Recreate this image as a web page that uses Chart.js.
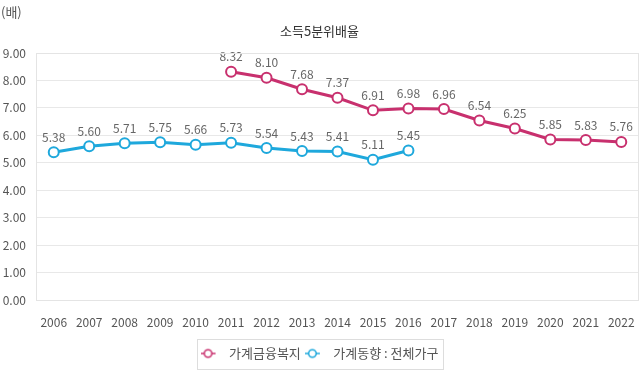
<!DOCTYPE html>
<html>
<head>
<meta charset="utf-8">
<script src="https://cdn.jsdelivr.net/npm/chart.js@4"></script>
<style>
  body { margin: 0; background: #fff; }
  #wrap { position: relative; width: 639px; height: 370px; }
  #the-chart { display: block; }
  #unit { position: absolute; left: 1px; top: 2px; font: 13px "Noto Sans CJK KR", sans-serif; color: #555; }
</style>
</head>
<body>
<div id="wrap">
  <span id="unit">(배)</span>
  <canvas id="the-chart" width="639" height="370"></canvas>
</div>
<script>
// 소득5분위배율 chart

const years = ['2006', '2007', '2008', '2009', '2010', '2011', '2012', '2013', '2014', '2015', '2016', '2017', '2018', '2019', '2020', '2021', '2022'];
const finWelfare = [null, null, null, null, null, 8.32, 8.10, 7.68, 7.37, 6.91, 6.98, 6.96, 6.54, 6.25, 5.85, 5.83, 5.76];
const hhTrend = [5.38, 5.60, 5.71, 5.75, 5.66, 5.73, 5.54, 5.43, 5.41, 5.11, 5.45, null, null, null, null, null, null];
const seriesNames = ['가계금융복지', '가계동향 : 전체가구'];
const colors = ['#c8306e', '#1ea8dc'];

const fontFamily = '"Noto Sans CJK KR", "Noto Sans", sans-serif';

// legend marker: short line with a hollow circle, left part of a 22px box
function legendMarker(color) {
  const c = document.createElement('canvas');
  c.width = 22;
  c.height = 12;
  const g = c.getContext('2d');
  g.strokeStyle = color;
  g.lineWidth = 1.5;
  g.beginPath();
  g.moveTo(0, 6);
  g.lineTo(15, 6);
  g.stroke();
  g.fillStyle = '#fff';
  g.beginPath();
  g.arc(7.5, 6, 3.8, 0, Math.PI * 2);
  g.fill();
  g.stroke();
  return c;
}

const valueLabels = {
  id: 'valueLabels',
  afterDatasetsDraw(chart) {
    const ctx = chart.ctx;
    ctx.save();
    ctx.font = '12px ' + fontFamily;
    ctx.fillStyle = '#666';
    ctx.textAlign = 'center';
    ctx.textBaseline = 'bottom';
    chart.data.datasets.forEach((ds, i) => {
      const meta = chart.getDatasetMeta(i);
      meta.data.forEach((pt, j) => {
        const v = ds.data[j];
        if (v === null) return;
        ctx.fillText(v.toFixed(2), pt.x, pt.y - 9);
      });
    });
    ctx.restore();
  }
};

const legendBox = {
  id: 'legendBox',
  afterDraw(chart) {
    const boxes = chart.legend.legendHitBoxes;
    if (!boxes.length) return;
    const first = boxes[0];
    const last = boxes[boxes.length - 1];
    const cy = first.top + first.height / 2;
    const ctx = chart.ctx;
    ctx.save();
    ctx.strokeStyle = '#dddddd';
    ctx.lineWidth = 1;
    const x0 = first.left - 4;
    const x1 = last.left + last.width + 4;
    ctx.strokeRect(Math.round(x0) + 0.5, Math.round(cy - 15) + 0.5, Math.round(x1 - x0), 30);
    ctx.restore();
  }
};

const plotFrame = {
  id: 'plotFrame',
  afterDraw(chart) {
    const a = chart.chartArea;
    const c = chart.ctx;
    c.save();
    c.strokeStyle = '#e4e4e4';
    c.lineWidth = 1;
    c.beginPath();
    c.moveTo(Math.round(a.right) - 0.5, a.top);
    c.lineTo(Math.round(a.right) - 0.5, a.bottom);
    c.moveTo(a.left, Math.round(a.top) + 0.5);
    c.lineTo(a.right, Math.round(a.top) + 0.5);
    c.stroke();
    c.restore();
  }
};

// let the plot run to the canvas edge (no padding reserved for edge tick labels)
const noScalePadding = {
  id: 'noScalePadding',
  beforeLayout(chart) {
    Object.values(chart.scales).forEach((s) => {
      s.getPadding = () => ({ left: 0, right: 0, top: 0, bottom: 0 });
    });
  }
};

const ctx = document.getElementById('the-chart');
const theChart = new Chart(ctx, {
  type: 'line',
  data: {
    labels: years,
    datasets: [
      {
        label: seriesNames[0],
        data: finWelfare,
        borderColor: colors[0],
        backgroundColor: '#fff',
        borderWidth: 3,
        pointRadius: 5,
        pointBorderWidth: 2,
        spanGaps: false
      },
      {
        label: seriesNames[1],
        data: hhTrend,
        borderColor: colors[1],
        backgroundColor: '#fff',
        borderWidth: 3,
        pointRadius: 5,
        pointBorderWidth: 2,
        spanGaps: false
      }
    ]
  },
  options: {
    responsive: false,
    animation: false,
    layout: { autoPadding: false, padding: { left: 0, right: 0, top: 0, bottom: 0 } },
    plugins: {
      title: {
        display: true,
        text: '소득5분위배율',
        color: '#333',
        font: { family: fontFamily, size: 13, weight: 'normal' },
        padding: { top: 23, bottom: 14.4 }
      },
      legend: {
        position: 'bottom',
        labels: {
          usePointStyle: true,
          pointStyleWidth: 22,
          generateLabels(chart) {
            return chart.data.datasets.map((ds, i) => ({
              text: ds.label,
              fontColor: '#555',
              pointStyle: legendMarker(colors[i]),
              strokeStyle: colors[i],
              lineWidth: 0,
              datasetIndex: i
            }));
          },
          font: { family: fontFamily, size: 13 },
          color: '#555',
          padding: 4,
          boxHeight: 12
        }
      },
      tooltip: { enabled: false }
    },
    scales: {
      x: {
        offset: true,
        afterFit(scale) { scale.height = 43; },
        grid: { display: false, drawTicks: false },
        border: { display: true, color: '#e4e4e4' },
        ticks: {
          color: '#555',
          font: { family: fontFamily, size: 12 },
          padding: 15,
          maxRotation: 0,
          autoSkip: false
        }
      },
      y: {
        min: 0,
        max: 9,
        afterFit(scale) { scale.width = 36; },
        grid: { color: '#e8e8e8', drawTicks: false },
        border: { display: true, color: '#e4e4e4' },
        ticks: {
          stepSize: 1,
          color: '#555',
          font: { family: fontFamily, size: 12 },
          padding: 10,
          callback: (v) => v.toFixed(2)
        }
      }
    }
  },
  plugins: [noScalePadding, valueLabels, legendBox, plotFrame]
});
</script>
</body>
</html>
